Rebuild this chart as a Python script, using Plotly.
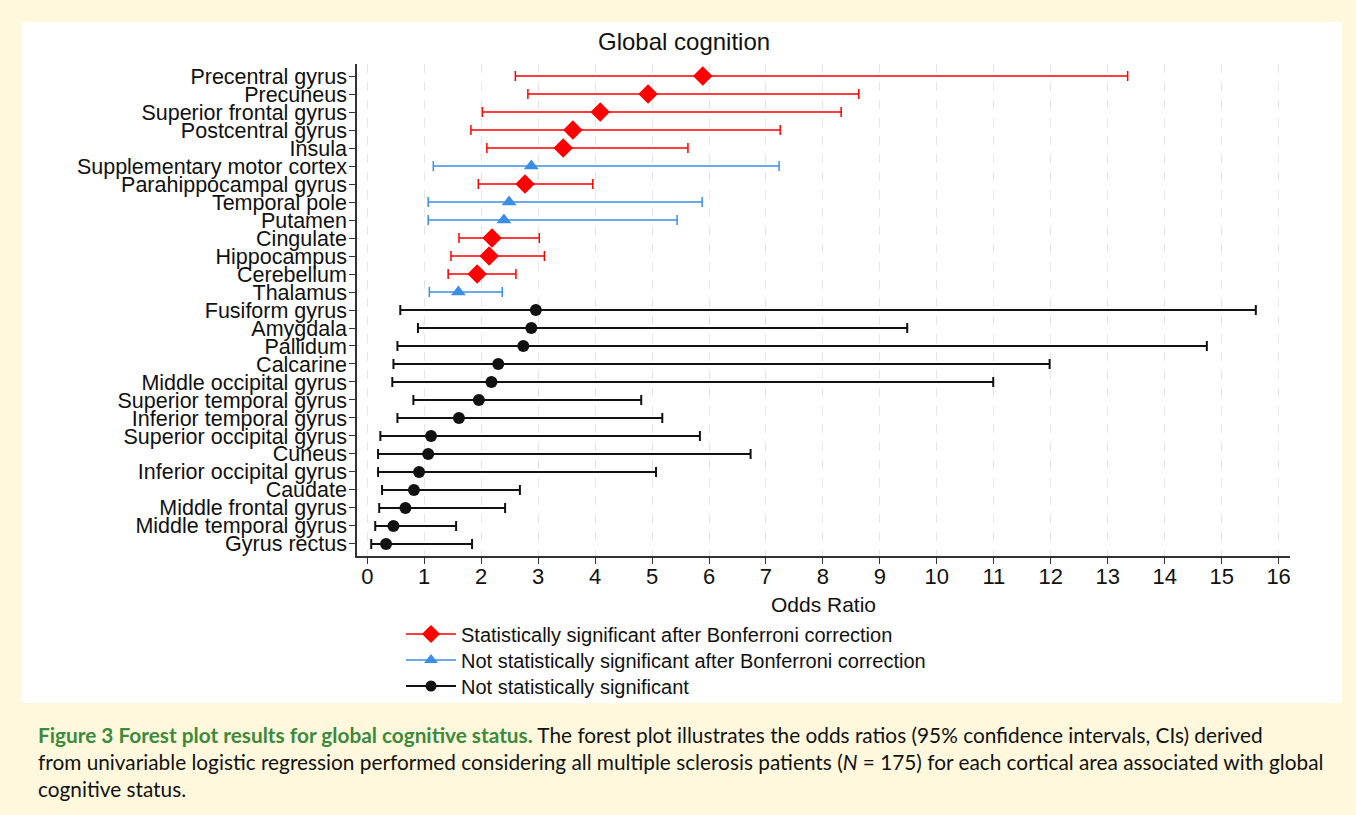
import plotly.graph_objects as go

# ---------------- data ----------------
regions = ["Precentral gyrus", "Precuneus", "Superior frontal gyrus", "Postcentral gyrus", "Insula",
           "Supplementary motor cortex", "Parahippocampal gyrus", "Temporal pole", "Putamen", "Cingulate",
           "Hippocampus", "Cerebellum", "Thalamus", "Fusiform gyrus", "Amygdala", "Pallidum", "Calcarine",
           "Middle occipital gyrus", "Superior temporal gyrus", "Inferior temporal gyrus",
           "Superior occipital gyrus", "Cuneus", "Inferior occipital gyrus", "Caudate",
           "Middle frontal gyrus", "Middle temporal gyrus", "Gyrus rectus"]
odds = [5.89, 4.93, 4.09, 3.61, 3.44, 2.88, 2.77, 2.49, 2.40, 2.19, 2.14, 1.93, 1.60,
        2.96, 2.88, 2.74, 2.30, 2.18, 1.96, 1.61, 1.12, 1.07, 0.91, 0.82, 0.67, 0.46, 0.33]
ci_low = [2.60, 2.82, 2.02, 1.82, 2.10, 1.16, 1.95, 1.07, 1.07, 1.61, 1.47, 1.42, 1.09,
          0.58, 0.89, 0.53, 0.46, 0.44, 0.81, 0.53, 0.23, 0.19, 0.19, 0.26, 0.21, 0.14, 0.07]
ci_high = [13.35, 8.63, 8.32, 7.25, 5.63, 7.23, 3.96, 5.88, 5.44, 3.02, 3.11, 2.61, 2.37,
           15.60, 9.48, 14.74, 11.98, 10.99, 4.81, 5.18, 5.84, 6.73, 5.07, 2.68, 2.42, 1.56, 1.84]
group = ["bonf", "bonf", "bonf", "bonf", "bonf", "nobonf", "bonf", "nobonf", "nobonf", "bonf",
         "bonf", "bonf", "nobonf", "ns", "ns", "ns", "ns", "ns", "ns", "ns", "ns", "ns", "ns", "ns",
         "ns", "ns", "ns"]
group_names = {"bonf": "Statistically significant after Bonferroni correction",
               "nobonf": "Not statistically significant after Bonferroni correction",
               "ns": "Not statistically significant"}
x_ticks = list(range(0, 17))
REF_LINE = 1

# ---------------- style ----------------
styles = {"bonf": dict(color="#ff0000", symbol="diamond", size=15, lw=1.5),
          "nobonf": dict(color="#3b8ee6", symbol="triangle-up", size=13, lw=1.5),
          "ns": dict(color="#111111", symbol="circle", size=12, lw=2)}

W, H = 1356, 815
L, R, T, B = 357, 1290, 64, 556
def px(x):
    return (x - L) / (R - L)
def py(y):
    return (B - y) / (B - T)

fig = go.Figure()
for g in ["bonf", "nobonf", "ns"]:
    idx = [i for i, gg in enumerate(group) if gg == g]
    s = styles[g]
    fig.add_trace(go.Scatter(
        x=[odds[i] for i in idx], y=[regions[i] for i in idx], mode="markers",
        marker=dict(color=s["color"], symbol=s["symbol"], size=s["size"]),
        error_x=dict(type="data", symmetric=False,
                     array=[ci_high[i] - odds[i] for i in idx],
                     arrayminus=[odds[i] - ci_low[i] for i in idx],
                     color=s["color"], thickness=s["lw"], width=5),
        showlegend=False, hoverinfo="x+y"))

legend_ids = {"bonf": "legend", "nobonf": "legend2", "ns": "legend3"}
legend_y = {"bonf": 634, "nobonf": 660, "ns": 686}
font_main = "Liberation Sans, Arial, sans-serif"
for g in ["bonf", "nobonf", "ns"]:
    s = styles[g]
    fig.add_trace(go.Scatter(
        x=[None], y=[None], mode="lines+markers", name=group_names[g], legend=legend_ids[g],
        line=dict(color=s["color"], width=s["lw"]),
        marker=dict(color=s["color"], symbol=s["symbol"], size=s["size"] - 1)))

fig.add_shape(type="line", xref="x", yref="paper", x0=REF_LINE, x1=REF_LINE, y0=0, y1=1,
              line=dict(color="#777777", width=1.3, dash="dash"), layer="below")
# white panel
fig.add_shape(type="rect", xref="paper", yref="paper", x0=px(22), x1=px(1342), y0=py(703), y1=py(22),
              fillcolor="white", line=dict(width=0), layer="below")

legend_common = dict(xanchor="left", yanchor="middle", bgcolor="rgba(0,0,0,0)",
                     font=dict(size=20, family=font_main), itemwidth=50)
fig.update_layout(
    width=W, height=H,
    margin=dict(l=L, r=W - R, t=T, b=H - B),
    paper_bgcolor="#fff8dc", plot_bgcolor="white",
    font=dict(family=font_main, color="#111111"),
    xaxis=dict(range=[-0.18, 16.2], tickvals=x_ticks, showgrid=True, gridcolor="#e6e6e6",
               griddash="dash", gridwidth=1, zeroline=False, showline=True, linecolor="#333333",
               linewidth=1.5, ticks="outside", ticklen=6, tickcolor="#333333",
               ticklabelstandoff=-6,
               tickfont=dict(size=22, family=font_main), fixedrange=True),
    yaxis=dict(type="category", categoryorder="array", categoryarray=regions,
               tickmode="array", tickvals=regions, ticktext=regions,
               range=[len(regions) - 1 + 0.67, -0.67], showgrid=False, zeroline=False,
               showline=True, linecolor="#333333", linewidth=1.5, ticks="outside", ticklen=6,
               ticklabelstandoff=-2,
               tickcolor="#333333", tickfont=dict(size=21.5, family=font_main), fixedrange=True),
    legend=dict(x=px(401), y=py(legend_y["bonf"]), **legend_common),
    legend2=dict(x=px(401), y=py(legend_y["nobonf"]), **legend_common),
    legend3=dict(x=px(401), y=py(legend_y["ns"]), **legend_common),
    showlegend=True,
)

fig.add_annotation(text="Global cognition", xref="paper", yref="paper", x=px(684), y=py(41),
                   xanchor="center", yanchor="middle", showarrow=False,
                   font=dict(size=24, family=font_main, color="#111111"))
fig.add_annotation(text="Odds Ratio", xref="paper", yref="paper", x=px(823), y=py(604),
                   xanchor="center", yanchor="middle", showarrow=False,
                   font=dict(size=21, family=font_main, color="#111111"))

cap_font = "Lato, Open Sans, sans-serif"
caption = [
    "<b><span style='color:#3c8a3c'>Figure 3 Forest plot results for global cognitive status.</span></b> "
    "The forest plot illustrates the odds ratios (95% confidence intervals, CIs) derived",
    "from univariable logistic regression performed considering all multiple sclerosis patients "
    "(<i>N</i> = 175) for each cortical area associated with global",
    "cognitive status.",
]
caption_y = [734, 761, 788]
for line, yy in zip(caption, caption_y):
    fig.add_annotation(text=line, xref="paper", yref="paper", x=px(36), y=py(yy),
                       xanchor="left", yanchor="middle", showarrow=False,
                       font=dict(size=20.8, family=cap_font, color="#111111"))

fig.write_html("out.html")
